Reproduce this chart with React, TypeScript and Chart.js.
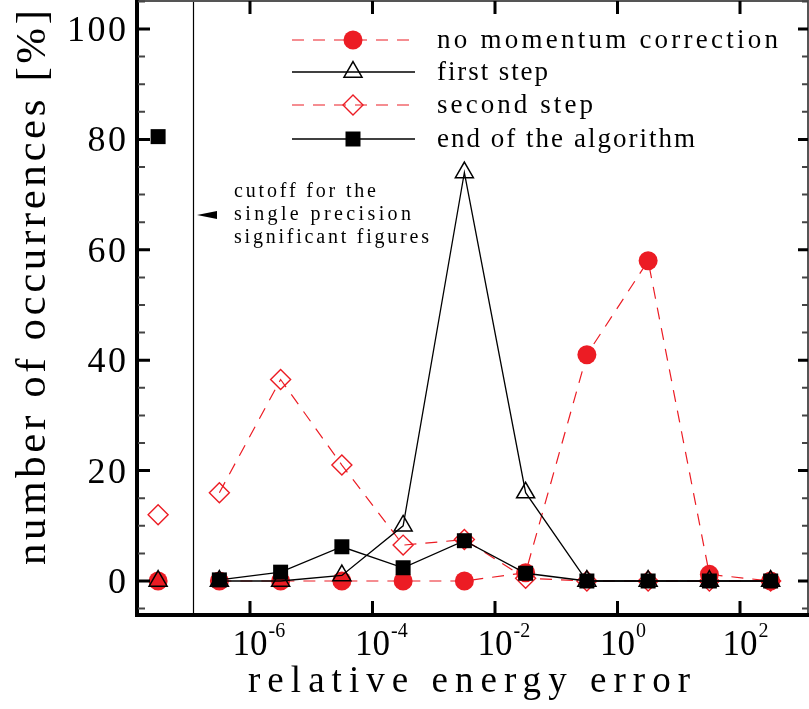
import { useEffect, useRef } from "react";
import { Chart, registerables } from "chart.js";
Chart.register(...registerables);

// log10 of the relative energy error at each bin centre
const ERR_EXPONENTS = [-7.5, -6.5, -5.5, -4.5, -3.5, -2.5, -1.5, -0.5, 0.5, 1.5, 2.5];
const NO_MOMENTUM = [0, 0, 0, 0, 0, 0, 1.5, 41, 58, 1.2, 0];
const FIRST_STEP = [0, 0, 0, 1, 10, 74, 16, 0, 0, 0, 0];
const SECOND_STEP = [12, 16, 36.5, 21, 6.5, 7.5, 0.5, 0, 0, 0, 0];
const END_ALGORITHM = [80.5, 0.2, 1.6, 6.2, 2.4, 7.3, 1.4, 0, 0, 0, 0];
const CUTOFF = 1.19e-7;
const X_TICK_EXPONENTS = [-6, -4, -2, 0, 2];
const Y_MAJOR = [0, 20, 40, 60, 80, 100];
const Y_MINOR = [-5, 5, 10, 15, 25, 30, 35, 45, 50, 55, 65, 70, 75, 85, 90, 95, 105];
const SERIES_LABELS = ["no momentum correction", "first step", "second step", "end of the algorithm"];
const X_TITLE = "relative energy error";
const Y_TITLE = "number of occurrences [%]";
const NOTE_LINES = ["cutoff for the", "single precision", "significant figures"];

const RED = "#ec1c24";
const FONT = "'Liberation Serif', 'DejaVu Serif', serif";

type Marker = { style: string; r: number; fill: string | null; stroke: string | null; lw: number; line: string; lineW: number; dash: number[] };

const MARKERS: Marker[] = [
  { style: "circle", r: 9.5, fill: RED, stroke: null, lw: 0, line: RED, lineW: 1.2, dash: [12, 9] },
  { style: "triangle", r: 10.4, fill: null, stroke: "#000", lw: 1.5, line: "#000", lineW: 1.3, dash: [] },
  { style: "rectRot", r: 10, fill: null, stroke: RED, lw: 1.4, line: RED, lineW: 1.2, dash: [12, 9] },
  { style: "rect", r: 10.6, fill: "#000", stroke: null, lw: 0, line: "#000", lineW: 1.3, dash: [] },
];

function drawMarker(ctx: CanvasRenderingContext2D, m: Marker, x: number, y: number) {
  const r = m.r;
  ctx.beginPath();
  if (m.style === "circle") {
    ctx.arc(x, y, r, 0, Math.PI * 2);
  } else if (m.style === "triangle") {
    let rad = 0;
    ctx.moveTo(x + Math.sin(rad) * r, y - Math.cos(rad) * r);
    rad += (2 * Math.PI) / 3;
    ctx.lineTo(x + Math.sin(rad) * r, y - Math.cos(rad) * r);
    rad += (2 * Math.PI) / 3;
    ctx.lineTo(x + Math.sin(rad) * r, y - Math.cos(rad) * r);
  } else if (m.style === "rectRot") {
    ctx.moveTo(x - r, y);
    ctx.lineTo(x, y - r);
    ctx.lineTo(x + r, y);
    ctx.lineTo(x, y + r);
  } else {
    const s = r * Math.SQRT1_2;
    ctx.rect(x - s, y - s, 2 * s, 2 * s);
  }
  ctx.closePath();
  if (m.fill) {
    ctx.fillStyle = m.fill;
    ctx.fill();
  }
  if (m.stroke) {
    ctx.strokeStyle = m.stroke;
    ctx.lineWidth = m.lw;
    ctx.stroke();
  }
}

function fitText(ctx: CanvasRenderingContext2D, text: string, x: number, y: number, width: number) {
  (ctx as any).letterSpacing = "0px";
  const w0 = ctx.measureText(text).width;
  const ls = text.length > 1 ? (width - w0) / (text.length - 1) : 0;
  (ctx as any).letterSpacing = ls + "px";
  ctx.textAlign = "left";
  ctx.fillText(text, x, y);
  (ctx as any).letterSpacing = "0px";
}

const decorPlugin = {
  id: "decor",
  beforeDatasetsDraw(chart: any) {
    const ctx: CanvasRenderingContext2D = chart.ctx;
    const { top, bottom } = chart.chartArea;
    const xs = chart.scales.x;
    const cx = Math.round(xs.getPixelForValue(CUTOFF)) + 0.5;
    ctx.save();
    ctx.strokeStyle = "#000";
    ctx.lineWidth = 1.2;
    ctx.beginPath();
    ctx.moveTo(cx, top);
    ctx.lineTo(cx, bottom);
    ctx.stroke();
    ctx.restore();
  },
  afterDraw(chart: any) {
    const ctx: CanvasRenderingContext2D = chart.ctx;
    const { left, right, top, bottom } = chart.chartArea;
    const xs = chart.scales.x;
    const ys = chart.scales.y;
    ctx.save();
    // frame
    ctx.strokeStyle = "#555";
    ctx.lineWidth = 2;
    ctx.beginPath();
    ctx.moveTo(left, top);
    ctx.lineTo(right, top);
    ctx.lineTo(right, bottom);
    ctx.stroke();
    ctx.strokeStyle = "#000";
    ctx.lineWidth = 4;
    ctx.beginPath();
    ctx.moveTo(left + 1, 0);
    ctx.lineTo(left + 1, bottom + 2);
    ctx.moveTo(left - 1, bottom);
    ctx.lineTo(right + 2, bottom);
    ctx.stroke();

    // y ticks
    Y_MAJOR.forEach((v) => {
      const py = ys.getPixelForValue(v);
      ctx.strokeStyle = "#000";
      ctx.lineWidth = 3;
      ctx.beginPath();
      ctx.moveTo(left + 2, py);
      ctx.lineTo(left + 14, py);
      ctx.moveTo(right, py);
      ctx.lineTo(right - 10, py);
      ctx.stroke();
    });
    Y_MINOR.forEach((v) => {
      const py = ys.getPixelForValue(v);
      if (py < top || py > bottom) return;
      ctx.strokeStyle = "#444";
      ctx.lineWidth = 2;
      ctx.beginPath();
      ctx.moveTo(left + 2, py);
      ctx.lineTo(left + 9, py);
      ctx.moveTo(right, py);
      ctx.lineTo(right - 6, py);
      ctx.stroke();
    });
    // x ticks
    X_TICK_EXPONENTS.forEach((e) => {
      const px = xs.getPixelForValue(Math.pow(10, e));
      ctx.strokeStyle = "#000";
      ctx.lineWidth = 3;
      ctx.beginPath();
      ctx.moveTo(px, bottom - 2);
      ctx.lineTo(px, bottom - 14);
      ctx.moveTo(px, top);
      ctx.lineTo(px, top + 13);
      ctx.stroke();
    });

    ctx.fillStyle = "#000";
    ctx.textBaseline = "alphabetic";
    // y tick labels
    ctx.font = `36px ${FONT}`;
    Y_MAJOR.forEach((v) => {
      const py = ys.getPixelForValue(v);
      const t = String(v);
      const w0 = ctx.measureText(t).width;
      const ls = 2.5;
      const w = w0 + ls * (t.length - 1);
      (ctx as any).letterSpacing = ls + "px";
      ctx.textAlign = "left";
      ctx.fillText(t, left - 10 - w, py + 12);
      (ctx as any).letterSpacing = "0px";
    });
    // x tick labels
    X_TICK_EXPONENTS.forEach((e) => {
      const px = xs.getPixelForValue(Math.pow(10, e));
      ctx.font = `35px ${FONT}`;
      ctx.textAlign = "center";
      ctx.fillText("10", px, 655);
      const w = ctx.measureText("10").width;
      ctx.font = `20px ${FONT}`;
      ctx.textAlign = "left";
      ctx.fillText(e < 0 ? "-" + Math.abs(e) : String(e), px + w / 2 + 1, 637);
    });

    // axis titles
    ctx.font = `37px ${FONT}`;
    fitText(ctx, X_TITLE, 248, 692, 442);
    ctx.save();
    ctx.translate(45, 565);
    ctx.rotate(-Math.PI / 2);
    ctx.font = `43px ${FONT}`;
    fitText(ctx, Y_TITLE, 0, 0, 555);
    ctx.restore();

    // legend
    const rows = [40, 72, 105, 139];
    const widths = [341, 111, 156, 258];
    MARKERS.forEach((m, i) => {
      const y = rows[i];
      ctx.save();
      ctx.strokeStyle = m.line;
      ctx.lineWidth = m.lineW;
      ctx.setLineDash(m.dash);
      ctx.beginPath();
      ctx.moveTo(292, y);
      ctx.lineTo(415, y);
      ctx.stroke();
      ctx.restore();
      drawMarker(ctx, m, 353, y);
      ctx.fillStyle = "#000";
      ctx.font = `27px ${FONT}`;
      fitText(ctx, SERIES_LABELS[i], 437, y + 8, widths[i]);
    });

    // cutoff annotation
    ctx.fillStyle = "#000";
    ctx.font = `20px ${FONT}`;
    const noteW = [142, 177, 195];
    NOTE_LINES.forEach((t, i) => fitText(ctx, t, 234, 197 + i * 23, noteW[i]));
    ctx.beginPath();
    ctx.moveTo(197, 215);
    ctx.lineTo(217, 211);
    ctx.lineTo(217, 219);
    ctx.closePath();
    ctx.fill();
    ctx.restore();
  },
};

function points(vals: number[]) {
  const out: { x: number; y: number | null }[] = [];
  ERR_EXPONENTS.forEach((e, i) => {
    out.push({ x: Math.pow(10, e), y: vals[i] });
    if (i === 0) out.push({ x: CUTOFF, y: null });
  });
  return out;
}

export default function App() {
  const ref = useRef<HTMLCanvasElement>(null);
  useEffect(() => {
    const canvas = ref.current!;
    const series = [NO_MOMENTUM, FIRST_STEP, SECOND_STEP, END_ALGORITHM];
    const orders = [3, 1, 2, 0];
    const datasets = series.map((vals, i) => {
      const m = MARKERS[i];
      return {
        label: SERIES_LABELS[i],
        data: points(vals),
        order: orders[i],
        borderColor: m.line,
        borderWidth: m.lineW,
        borderDash: m.dash,
        tension: 0,
        spanGaps: false,
        pointStyle: m.style,
        pointRadius: m.r,
        pointHoverRadius: m.r,
        pointBackgroundColor: m.fill ?? "rgba(0,0,0,0)",
        pointBorderColor: m.stroke ?? m.fill,
        pointBorderWidth: m.stroke ? m.lw : 0,
        clip: false as any,
      };
    });
    const chart = new Chart(canvas, {
      type: "line",
      data: { datasets: datasets as any },
      options: {
        responsive: false,
        animation: false,
        devicePixelRatio: 1,
        layout: { autoPadding: false, padding: { left: 136, right: 1, top: 1, bottom: 94 } },
        scales: {
          x: { type: "logarithmic", display: false, min: Math.pow(10, -7.861), max: Math.pow(10, 3.11) },
          y: { type: "linear", display: false, min: -6.16, max: 105.07 },
        },
        plugins: { legend: { display: false }, tooltip: { enabled: false } },
      },
      plugins: [decorPlugin],
    });
    return () => chart.destroy();
  }, []);
  return (
    <div style={{ position: "fixed", left: 0, top: 0, width: 809, height: 709, background: "#fff" }}>
      <canvas ref={ref} width={809} height={709} style={{ display: "block", width: 809, height: 709 }} />
    </div>
  );
}
